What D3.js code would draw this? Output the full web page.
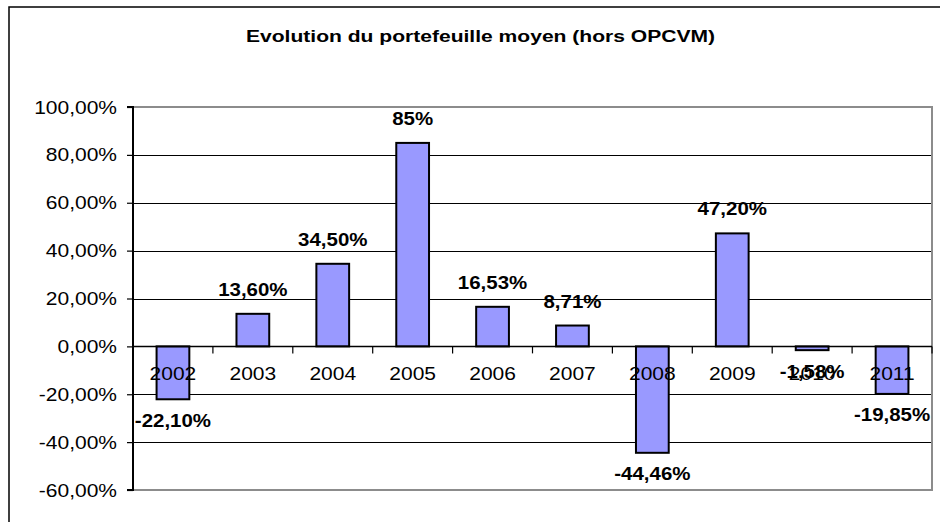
<!DOCTYPE html>
<html>
<head>
<meta charset="utf-8">
<script src="https://cdn.jsdelivr.net/npm/d3@7"></script>
<style>
  html, body { margin: 0; padding: 0; background: #fff; }
  svg { display: block; }
  text { font-family: "Liberation Sans", Arial, sans-serif; fill: #000; }
</style>
</head>
<body>
<svg id="chart" width="940" height="522"></svg>
<script>
const title = "Evolution du portefeuille moyen (hors OPCVM)";
const categories = ["2002","2003","2004","2005","2006","2007","2008","2009","2010","2011"];
const values = [-22.10, 13.60, 34.50, 85, 16.53, 8.71, -44.46, 47.20, -1.58, -19.85];
const valueLabels = ["-22,10%","13,60%","34,50%","85%","16,53%","8,71%","-44,46%","47,20%","-1,58%","-19,85%"];
const yTicks = [100, 80, 60, 40, 20, 0, -20, -40, -60];
const yTickLabels = ["100,00%","80,00%","60,00%","40,00%","20,00%","0,00%","-20,00%","-40,00%","-60,00%"];

const svg = d3.select("#chart");
const plot = {left: 133, right: 932, top: 107, bottom: 490};
const SX = 1.2; // horizontal stretch of the source image's text

const x = d3.scaleBand().domain(categories).range([plot.left, plot.right]).padding(0);
const y = d3.scaleLinear().domain([-60, 100]).range([plot.bottom, plot.top]);

// outer frame (extends beyond the picture on right and bottom)
svg.append("rect").attr("x", 9).attr("y", 7).attr("width", 960).attr("height", 560)
  .attr("fill", "#fff").attr("stroke", "#000").attr("stroke-width", 1.5);

function stext(g, xPos, yPos, str, opts) {
  return g.append("text")
    .attr("transform", `translate(${xPos},${yPos}) scale(${opts.sx || SX},1)`)
    .attr("text-anchor", opts.anchor || "middle")
    .attr("font-size", opts.size || 17.5)
    .attr("font-weight", opts.bold ? "bold" : "normal")
    .text(str);
}

// title
stext(svg, 480.5, 42, title, {size: 17, bold: true, sx: 1.24});

// gridlines
svg.append("g").selectAll("line").data(yTicks.filter(t => t !== 100 && t !== -60 && t !== 0))
  .join("line")
  .attr("x1", plot.left).attr("x2", plot.right)
  .attr("y1", d => Math.round(y(d)) + 0.5).attr("y2", d => Math.round(y(d)) + 0.5)
  .attr("stroke", "#000").attr("stroke-width", 1);

// plot area border (gray)
svg.append("path")
  .attr("d", `M${plot.left},${plot.top}H${plot.right}V${plot.bottom}H${plot.left}`)
  .attr("fill", "none").attr("stroke", "#8c8c8c").attr("stroke-width", 2);

// bars
const barW = x.bandwidth() * 0.41;
svg.append("g").selectAll("rect").data(values).join("rect")
  .attr("x", (d, i) => x(categories[i]) + x.bandwidth() / 2 - barW / 2)
  .attr("y", d => y(Math.max(0, d)))
  .attr("width", barW)
  .attr("height", d => Math.abs(y(d) - y(0)))
  .attr("fill", "#9999ff").attr("stroke", "#000").attr("stroke-width", 2);

// y axis
const yAxis = d3.axisLeft(y).tickValues(yTicks).tickSize(6).tickFormat("");
const gy = svg.append("g").attr("transform", `translate(${plot.left},0)`).call(yAxis);
gy.select(".domain").attr("stroke", "#000").attr("stroke-width", 2).attr("d", `M-6,${plot.top}H0V${plot.bottom}H-6`);
gy.selectAll(".tick line").attr("stroke", "#000").attr("stroke-width", 1.2);
yTicks.forEach((t, i) => {
  stext(svg, 117, y(t) + 6.5, yTickLabels[i], {anchor: "end"});
});

// zero line with category ticks
const xAxis = d3.axisBottom(x).tickSize(0).tickFormat("");
const gx = svg.append("g").attr("transform", `translate(0,${y(0)})`).call(xAxis);
gx.select(".domain").attr("stroke", "#000").attr("stroke-width", 1.5).attr("d", `M${plot.left},0H${plot.right}`);
gx.selectAll(".tick").remove();
const bounds = categories.map(c => x(c)).concat([plot.right]).slice(1);
gx.selectAll("line.sep").data(bounds).join("line").attr("class", "sep")
  .attr("x1", d => d).attr("x2", d => d).attr("y1", 0).attr("y2", 7)
  .attr("stroke", "#000").attr("stroke-width", 1.2);

// category labels
categories.forEach(c => {
  stext(svg, x(c) + x.bandwidth() / 2, 380, c, {});
});

// value labels
values.forEach((v, i) => {
  const cx = x(categories[i]) + x.bandwidth() / 2;
  const yy = v >= 0 ? y(v) - 18 : y(v) + 27.5;
  stext(svg, cx, yy, valueLabels[i], {bold: true, sx: 1.17});
});
</script>
</body>
</html>
